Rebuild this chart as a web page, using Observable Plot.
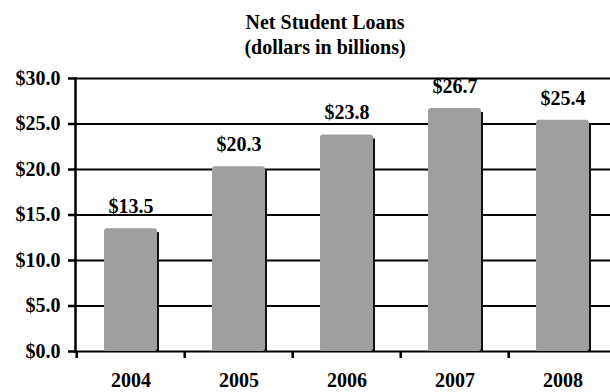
<!DOCTYPE html>
<html>
<head>
<meta charset="utf-8">
<script src="https://cdn.jsdelivr.net/npm/d3@7"></script>
<script src="https://cdn.jsdelivr.net/npm/@observablehq/plot@0.6"></script>
<style>
  body { margin: 0; background: #fff; width: 610px; height: 392px; overflow: hidden; }
  #title { height: 62px; box-sizing: border-box; padding-top: 10px; padding-left: 40px; text-align: center;
           font-family: "Liberation Serif", "Times New Roman", serif; font-weight: bold; font-size: 20px; line-height: 25px; color: #000; }
  svg { display: block; }
</style>
</head>
<body>
<div id="title">Net Student Loans<br>(dollars in billions)</div>
<div id="chart"></div>
<script>
const years = ["2004", "2005", "2006", "2007", "2008"];
const loans = [13.5, 20.3, 23.8, 26.7, 25.4];
const yTicks = [0, 5, 10, 15, 20, 25, 30];

const data = years.map((y, i) => ({year: y, value: loans[i]}));

const width = 610, height = 330;
const xRange = [75, 618];
const step = (xRange[1] - xRange[0]) / years.length;
const font = "Liberation Serif, Times New Roman, serif";

const chart = Plot.plot({
  width, height,
  marginTop: 16, marginBottom: 41, marginLeft: 75, marginRight: 0,
  style: {fontFamily: font, fontWeight: "bold", fontSize: "20px", color: "#000", background: "#fff", overflow: "visible"},
  x: {type: "band", domain: years, range: xRange, paddingInner: 0.51, paddingOuter: 0.255, axis: null},
  y: {type: "linear", domain: [0, 30], axis: null},
  marks: [
    Plot.ruleY(yTicks, {y: d => d, stroke: "#000", strokeWidth: 2.2}),
    Plot.barY(data, {x: "year", y: "value", fill: "#111", dx: 2, insetTop: 4}),
    Plot.barY(data, {x: "year", y: "value", fill: "#9f9f9f", rx: 3}),
    Plot.frame({anchor: "left", stroke: "#000", strokeWidth: 2.5}),
    Plot.axisY({ticks: yTicks, tickSize: 7, tickPadding: 8, strokeWidth: 2.5, tickFormat: d => "$" + d.toFixed(1), fontSize: 20, fontWeight: "bold", label: null}),
    Plot.axisX({ticks: years, tickSize: 7, dx: -step / 2, tickFormat: () => "", strokeWidth: 2.5, label: null}),
    Plot.axisX({ticks: years, tickSize: 0, tickPadding: 21, fontSize: 20, fontWeight: "bold", label: null}),
    Plot.text(data, {x: "year", y: "value", text: d => "$" + d.value.toFixed(1), dy: -22, fontSize: 20, fontWeight: "bold"}),
  ]
});
document.getElementById("chart").append(chart);
</script>
</body>
</html>
